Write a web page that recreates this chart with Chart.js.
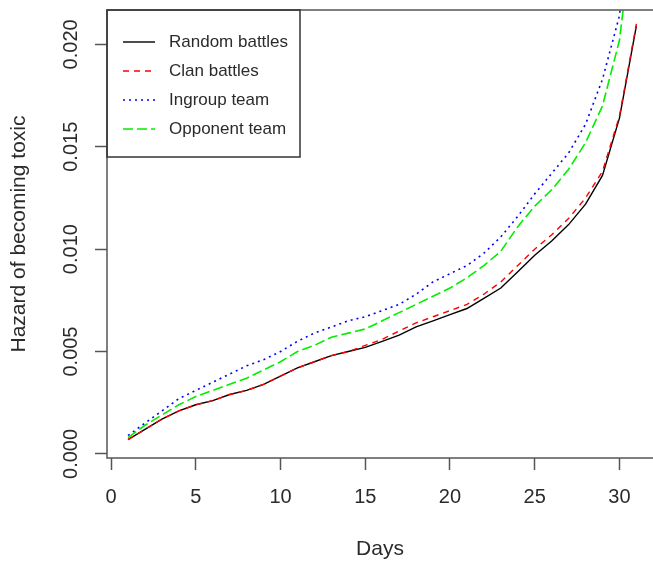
<!DOCTYPE html>
<html>
<head>
<meta charset="utf-8">
<script src="https://cdn.jsdelivr.net/npm/chart.js@4"></script>
<style>
  html, body { margin: 0; padding: 0; background: #fff; }
  #wrap { width: 653px; height: 562px; }
</style>
</head>
<body>
<div id="wrap"><canvas id="chart" width="653" height="562"></canvas></div>
<script>
const days = [1, 2, 3, 4, 5, 6, 7, 8, 9, 10, 11, 12, 13, 14, 15, 16,
  17, 18, 19, 20, 21, 22, 23, 24, 25, 26, 27, 28, 29, 30, 31];

const randomBattles = [0.0007, 0.0012, 0.0017, 0.0021, 0.0024, 0.0026, 0.0029, 0.0031,
  0.0034, 0.0038, 0.0042, 0.0045, 0.0048, 0.0050, 0.0052, 0.0055, 0.0058, 0.0062,
  0.0065, 0.0068, 0.0071, 0.0076, 0.0081, 0.0089, 0.0097, 0.0104, 0.0112, 0.0122,
  0.0136, 0.0164, 0.0209];
const clanBattles = [0.0007, 0.0012, 0.0017, 0.0021, 0.0024, 0.0026, 0.0029, 0.0031,
  0.0034, 0.0038, 0.0042, 0.0045, 0.0048, 0.0050, 0.0053, 0.0056, 0.0060, 0.0064,
  0.0067, 0.0070, 0.0073, 0.0078, 0.0084, 0.0092, 0.0100, 0.0107, 0.0115, 0.0125,
  0.0138, 0.0165, 0.0210];
const ingroupTeam = [0.0009, 0.0015, 0.0021, 0.0027, 0.0031, 0.0035, 0.0039, 0.0043,
  0.0046, 0.0050, 0.0055, 0.0059, 0.0062, 0.0065, 0.0067, 0.0070, 0.0073, 0.0078,
  0.0084, 0.0088, 0.0092, 0.0098, 0.0106, 0.0116, 0.0127, 0.0137, 0.0147, 0.0161,
  0.0183, 0.0214, 0.0290];
const opponentTeam = [0.0008, 0.0014, 0.0019, 0.0024, 0.0028, 0.0031, 0.0034, 0.0037,
  0.0041, 0.0045, 0.0050, 0.0053, 0.0057, 0.0059, 0.0061, 0.0065, 0.0069, 0.0073,
  0.0077, 0.0081, 0.0086, 0.0092, 0.0099, 0.0111, 0.0121, 0.0129, 0.0139, 0.0152,
  0.0170, 0.0202, 0.0270];

const seriesNames = ['Random battles', 'Clan battles', 'Ingroup team', 'Opponent team'];
const xTicks = [0, 5, 10, 15, 20, 25, 30];
const yTicks = [0, 0.005, 0.010, 0.015, 0.020];
const yTickLabels = ['0.000', '0.005', '0.010', '0.015', '0.020'];

const FONT = '"Liberation Sans", Arial, sans-serif';
const TEXT = '#2b2b2b';
const AXIS = '#555';

const pts = vals => vals.map((v, i) => ({ x: days[i], y: v }));

// box, rotated y labels and the R-style legend
const rFrame = {
  id: 'rFrame',
  afterDraw(chart) {
    const { ctx, chartArea: a, scales } = chart;
    ctx.save();
    ctx.strokeStyle = AXIS;
    ctx.lineWidth = 1.5;
    ctx.strokeRect(a.left, a.top, a.right - a.left + 10, a.bottom - a.top);

    ctx.fillStyle = TEXT;
    ctx.font = '20px ' + FONT;
    ctx.textAlign = 'center';
    ctx.textBaseline = 'middle';
    yTicks.forEach((v, i) => {
      const y = scales.y.getPixelForValue(v);
      ctx.save();
      ctx.translate(71, y);
      ctx.rotate(-Math.PI / 2);
      ctx.fillText(yTickLabels[i], 0, 0);
      ctx.restore();
    });

    // legend
    ctx.strokeStyle = '#333';
    ctx.lineWidth = 1.5;
    ctx.strokeRect(a.left, a.top, 193, 147);
    ctx.font = '17px ' + FONT;
    ctx.textAlign = 'left';
    chart.data.datasets.forEach((ds, i) => {
      const y = a.top + 32 + i * 29;
      ctx.save();
      ctx.strokeStyle = ds.borderColor;
      ctx.lineWidth = ds.borderWidth;
      ctx.setLineDash(ds.borderDash || []);
      ctx.beginPath();
      ctx.moveTo(a.left + 16, y);
      ctx.lineTo(a.left + 48, y);
      ctx.stroke();
      ctx.restore();
      ctx.fillStyle = TEXT;
      ctx.fillText(ds.label, a.left + 62, y);
    });
    ctx.restore();
  }
};

new Chart(document.getElementById('chart'), {
  type: 'line',
  data: {
    datasets: [
      { label: seriesNames[0], data: pts(randomBattles), borderColor: '#000000', borderWidth: 1.4, order: 3 },
      { label: seriesNames[1], data: pts(clanBattles), borderColor: '#ff0000', borderWidth: 1.4, borderDash: [6, 5], order: 2 },
      { label: seriesNames[2], data: pts(ingroupTeam), borderColor: '#0000ff', borderWidth: 1.6, borderDash: [2, 4], order: 1 },
      { label: seriesNames[3], data: pts(opponentTeam), borderColor: '#00ee00', borderWidth: 1.6, borderDash: [10, 4], order: 0 }
    ]
  },
  options: {
    responsive: false,
    animation: false,
    layout: { padding: { top: 10, right: 0, bottom: 0, left: 0 } },
    elements: { point: { radius: 0 }, line: { tension: 0 } },
    plugins: { legend: { display: false }, tooltip: { enabled: false } },
    scales: {
      x: {
        type: 'linear',
        min: -0.24,
        max: 31.98,
        afterBuildTicks: s => { s.ticks = xTicks.map(v => ({ value: v })); },
        afterFit: s => { s.height = 104; },
        grid: { drawOnChartArea: false, tickLength: 12, color: AXIS, tickWidth: 1.5 },
        border: { display: false },
        ticks: { color: TEXT, font: { family: FONT, size: 20 }, padding: 15, maxRotation: 0, autoSkip: false },
        title: { display: true, text: 'Days', color: TEXT, font: { family: FONT, size: 21 }, padding: { top: 0, bottom: 0 } }
      },
      y: {
        type: 'linear',
        min: -0.0002,
        max: 0.02168,
        afterBuildTicks: s => { s.ticks = yTicks.map(v => ({ value: v })); },
        afterFit: s => { s.width = 107; },
        grid: { drawOnChartArea: false, tickLength: 12, color: AXIS, tickWidth: 1.5 },
        border: { display: false },
        ticks: { display: false },
        title: { display: true, text: 'Hazard of becoming toxic', color: TEXT, font: { family: FONT, size: 21 }, padding: { top: 7, bottom: 0 } }
      }
    }
  },
  plugins: [rFrame]
});
</script>
</body>
</html>
